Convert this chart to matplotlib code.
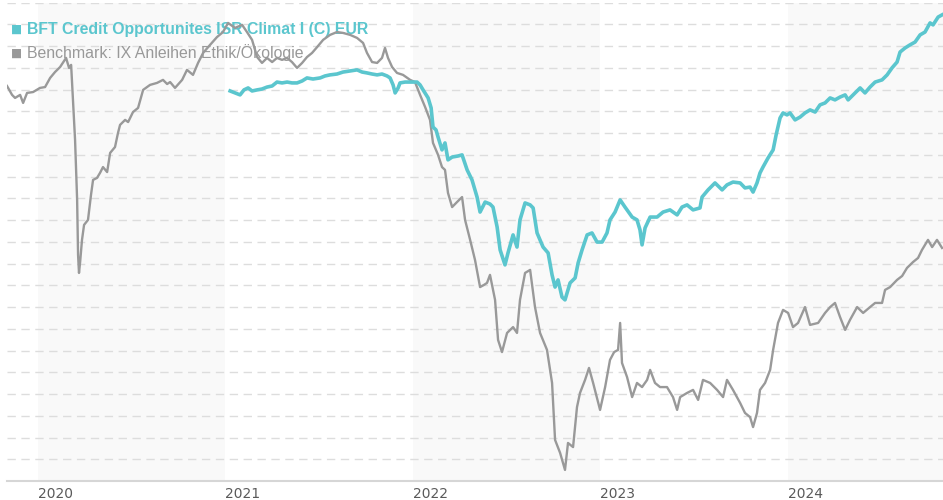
import matplotlib
matplotlib.use("Agg")
import matplotlib.pyplot as plt

plt.rcParams['font.family'] = ['Liberation Sans', 'DejaVu Sans']

# decimal years / index values
bench_t = [2019.837, 2019.864, 2019.880, 2019.907, 2019.923, 2019.944, 2019.976, 2020.013, 2020.040, 2020.067,
           2020.093, 2020.120, 2020.152, 2020.168, 2020.179, 2020.189, 2020.200, 2020.211, 2020.216, 2020.221,
           2020.227, 2020.237, 2020.248, 2020.269, 2020.285, 2020.296, 2020.317, 2020.333, 2020.349, 2020.371,
           2020.387, 2020.413, 2020.429, 2020.440, 2020.467, 2020.483, 2020.509, 2020.536, 2020.563, 2020.600,
           2020.637, 2020.669, 2020.691, 2020.707, 2020.733, 2020.771, 2020.797, 2020.829, 2020.856, 2020.883,
           2020.920, 2020.957, 2020.989, 2021.016, 2021.053, 2021.091, 2021.117, 2021.144, 2021.171, 2021.197,
           2021.224, 2021.251, 2021.277, 2021.304, 2021.331, 2021.357, 2021.384, 2021.411, 2021.437, 2021.464,
           2021.491, 2021.523, 2021.560, 2021.597, 2021.629, 2021.667, 2021.704, 2021.736, 2021.757, 2021.784,
           2021.811, 2021.837, 2021.853, 2021.869, 2021.891, 2021.917, 2021.949, 2021.987, 2022.013, 2022.040,
           2022.067, 2022.093, 2022.109, 2022.136, 2022.157, 2022.173, 2022.189, 2022.211, 2022.237, 2022.264,
           2022.280, 2022.307, 2022.333, 2022.360, 2022.381, 2022.397, 2022.413, 2022.440, 2022.456, 2022.477,
           2022.504, 2022.536, 2022.557, 2022.573, 2022.600, 2022.627, 2022.653, 2022.680, 2022.717, 2022.744,
           2022.760, 2022.787, 2022.813, 2022.829, 2022.856, 2022.877, 2022.893, 2022.920, 2022.941, 2022.963,
           2023.000, 2023.027, 2023.053, 2023.075, 2023.096, 2023.107, 2023.117, 2023.144, 2023.171, 2023.197,
           2023.224, 2023.251, 2023.267, 2023.293, 2023.320, 2023.357, 2023.389, 2023.411, 2023.427, 2023.464,
           2023.496, 2023.523, 2023.549, 2023.587, 2023.624, 2023.656, 2023.677, 2023.709, 2023.747, 2023.773,
           2023.800, 2023.816, 2023.837, 2023.853, 2023.880, 2023.907, 2023.923, 2023.949, 2023.976, 2024.003,
           2024.029, 2024.056, 2024.093, 2024.120, 2024.163, 2024.200, 2024.227, 2024.253, 2024.280, 2024.307,
           2024.333, 2024.371, 2024.403, 2024.440, 2024.467, 2024.504, 2024.520, 2024.547, 2024.584, 2024.611,
           2024.637, 2024.669, 2024.696, 2024.717, 2024.749, 2024.771, 2024.797, 2024.824]
bench_v = [98.17, 97.76, 97.62, 97.76, 97.39, 97.85, 97.89, 98.08, 98.12, 98.54,
           98.81, 99.04, 99.46, 99.00, 99.14, 97.53, 95.69, 92.93, 90.40, 89.57,
           90.07, 91.09, 91.78, 92.01, 93.16, 93.85, 93.94, 94.17, 94.44, 94.21,
           95.09, 95.36, 96.01, 96.38, 96.61, 96.51, 96.97, 97.16, 97.99, 98.22,
           98.31, 98.45, 98.26, 98.35, 98.08, 98.45, 98.91, 98.68, 99.23, 99.69,
           100.06, 100.42, 100.65, 101.07, 100.84, 100.98, 100.65, 100.29, 99.50, 99.23,
           99.46, 99.27, 99.46, 99.37, 99.46, 99.27, 99.00, 99.23, 99.50, 99.69,
           99.96, 100.29, 100.52, 100.65, 100.61, 100.52, 100.38, 100.15, 99.69, 99.27,
           99.23, 99.46, 99.92, 99.46, 99.04, 98.77, 98.68, 98.45, 98.35, 97.76,
           97.20, 96.61, 95.55, 95.00, 94.44, 94.31, 93.25, 92.60, 92.83, 93.06,
           92.01, 91.09, 90.17, 88.92, 89.02, 89.11, 89.48, 88.33, 86.49, 85.93,
           86.81, 87.08, 86.81, 88.33, 89.57, 89.71, 88.00, 86.81, 86.03, 84.51,
           81.89, 81.29, 80.51, 81.75, 81.56, 83.40, 84.05, 84.65, 85.20, 84.51,
           83.27, 84.32, 85.57, 85.93, 86.03, 87.27, 85.43, 84.78, 83.86, 84.51,
           84.32, 84.65, 85.11, 84.51, 84.32, 84.32, 83.86, 83.27, 83.86, 84.05,
           84.19, 83.73, 84.65, 84.51, 84.19, 83.86, 84.65, 84.19, 83.59, 83.13,
           82.94, 82.48, 83.13, 84.19, 84.51, 85.11, 86.03, 87.27, 87.87, 87.73,
           87.08, 87.27, 88.00, 87.18, 87.27, 87.73, 88.00, 88.19, 87.54, 86.95,
           87.41, 88.00, 87.73, 88.00, 88.19, 88.19, 88.79, 88.92, 89.25, 89.43,
           89.80, 90.07, 90.26, 90.63, 91.09, 90.76, 91.09, 90.72]

fund_t = [2021.027, 2021.053, 2021.080, 2021.101, 2021.123, 2021.144, 2021.171, 2021.197, 2021.224, 2021.251,
          2021.277, 2021.304, 2021.331, 2021.357, 2021.384, 2021.411, 2021.437, 2021.469, 2021.507, 2021.533,
          2021.560, 2021.597, 2021.629, 2021.667, 2021.704, 2021.731, 2021.757, 2021.784, 2021.811, 2021.837,
          2021.864, 2021.880, 2021.896, 2021.907, 2021.923, 2021.933, 2021.960, 2021.987, 2022.024, 2022.040,
          2022.056, 2022.083, 2022.099, 2022.109, 2022.125, 2022.136, 2022.157, 2022.173, 2022.189, 2022.211,
          2022.243, 2022.264, 2022.291, 2022.317, 2022.344, 2022.360, 2022.387, 2022.413, 2022.429, 2022.451,
          2022.467, 2022.493, 2022.509, 2022.536, 2022.557, 2022.573, 2022.600, 2022.627, 2022.643, 2022.664,
          2022.696, 2022.723, 2022.744, 2022.760, 2022.776, 2022.797, 2022.813, 2022.840, 2022.867, 2022.883,
          2022.904, 2022.931, 2022.957, 2022.984, 2023.011, 2023.037, 2023.053, 2023.080, 2023.107, 2023.133,
          2023.171, 2023.197, 2023.213, 2023.224, 2023.240, 2023.267, 2023.304, 2023.336, 2023.373, 2023.411,
          2023.437, 2023.464, 2023.496, 2023.533, 2023.544, 2023.576, 2023.613, 2023.651, 2023.677, 2023.709,
          2023.747, 2023.773, 2023.800, 2023.816, 2023.837, 2023.853, 2023.869, 2023.896, 2023.923, 2023.939,
          2023.960, 2023.976, 2023.997, 2024.013, 2024.040, 2024.067, 2024.093, 2024.120, 2024.147, 2024.173,
          2024.200, 2024.227, 2024.253, 2024.280, 2024.307, 2024.323, 2024.344, 2024.365, 2024.387, 2024.413,
          2024.440, 2024.467, 2024.504, 2024.531, 2024.557, 2024.584, 2024.600, 2024.627, 2024.653, 2024.680,
          2024.707, 2024.733, 2024.760, 2024.776, 2024.803, 2024.824]
fund_v = [97.94, 97.85, 97.76, 97.99, 98.08, 97.94, 97.99, 98.03, 98.12, 98.17,
          98.35, 98.31, 98.35, 98.31, 98.31, 98.40, 98.54, 98.49, 98.54, 98.63,
          98.68, 98.72, 98.81, 98.86, 98.91, 98.81, 98.77, 98.72, 98.68, 98.72,
          98.63, 98.54, 98.22, 97.85, 98.08, 98.31, 98.35, 98.35, 98.35, 98.22,
          97.99, 97.62, 97.16, 96.28, 96.15, 95.82, 95.23, 95.55, 94.77, 94.90,
          94.95, 95.00, 94.31, 93.85, 93.06, 92.37, 92.83, 92.74, 92.60, 91.68,
          90.63, 89.94, 90.49, 91.32, 90.76, 92.01, 92.79, 92.70, 92.56, 91.41,
          90.76, 90.49, 89.48, 88.92, 89.25, 88.46, 88.33, 89.11, 89.34, 90.03,
          90.63, 91.32, 91.41, 90.99, 90.99, 91.41, 92.01, 92.37, 92.93, 92.60,
          92.14, 92.01, 91.55, 90.86, 91.64, 92.14, 92.14, 92.37, 92.47, 92.24,
          92.60, 92.70, 92.47, 92.56, 93.06, 93.39, 93.71, 93.39, 93.62, 93.75,
          93.71, 93.48, 93.52, 93.29, 93.71, 94.17, 94.44, 94.86, 95.23, 95.92,
          96.70, 96.93, 96.84, 96.93, 96.61, 96.74, 96.93, 97.07, 96.97, 97.30,
          97.39, 97.62, 97.53, 97.66, 97.76, 97.53, 97.71, 97.89, 98.08, 97.85,
          98.12, 98.35, 98.45, 98.68, 99.00, 99.27, 99.73, 99.92, 100.06, 100.19,
          100.52, 100.65, 101.07, 100.98, 101.34, 101.44]

years = [2020, 2021, 2022, 2023, 2024]
fund_name = "BFT Credit Opportunites ISR Climat I (C) EUR"
bench_name = "Benchmark: IX Anleihen Ethik/Ökologie"

teal = "#5bc6ce"
grey = "#999999"

fig = plt.figure(figsize=(9.43, 5.0), dpi=100)
ax = fig.add_axes([7 / 943, 1 - 481 / 500, 936 / 943, 478.3 / 500])
ax.set_xlim(2019.837, 2024.829)
ax.set_ylim(80, 102)

# shaded every other year
for y in years[::2]:
    ax.axvspan(y, y + 1, color="#f9f9f9", lw=0, zorder=0)

ax.set_yticks(range(80, 103))
ax.yaxis.grid(True, color="#dddddd", lw=1, dashes=(6, 4), zorder=1)
ax.tick_params(axis="y", length=0, labelleft=False)
ax.set_xticks(years)
ax.set_xticklabels([str(y) for y in years], ha="left", fontsize=10,
                   color="#5a5a5a", family="DejaVu Sans")
ax.tick_params(axis="x", length=0, pad=4)
for s in ["top", "left", "right"]:
    ax.spines[s].set_visible(False)
ax.spines["bottom"].set_color("#d6d6d6")
ax.spines["bottom"].set_linewidth(1.5)

ax.plot(bench_t, bench_v, color=grey, lw=1.7, zorder=3)
ax.plot(fund_t, fund_v, color=teal, lw=2.6, zorder=4)

# legend as text under the lines
ax.text(3.5 / 936, (481 - 29) / 478.3, "\u25a0", transform=ax.transAxes, fontsize=8.5,
        color=teal, va="center", ha="left", zorder=2, family="DejaVu Sans")
ax.text(20 / 936, (481 - 29.5) / 478.3, fund_name, transform=ax.transAxes, fontsize=11.4,
        color=teal, fontweight="bold", va="center", ha="left", zorder=2)
ax.text(3.5 / 936, (481 - 53) / 478.3, "\u25a0", transform=ax.transAxes, fontsize=8.5,
        color=grey, va="center", ha="left", zorder=2, family="DejaVu Sans")
ax.text(20 / 936, (481 - 53) / 478.3, bench_name, transform=ax.transAxes, fontsize=11.4,
        color=grey, va="center", ha="left", zorder=2)

fig.savefig("out.png", dpi=100)
